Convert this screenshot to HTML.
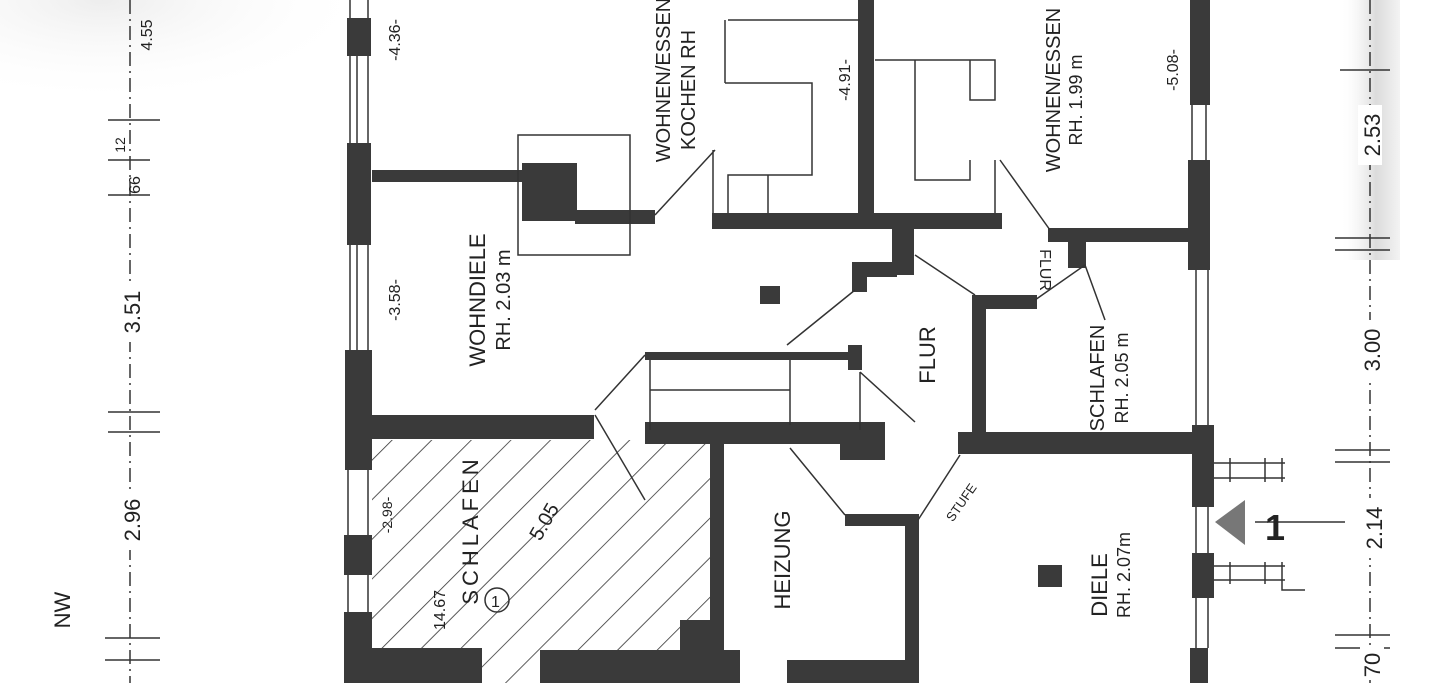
<!DOCTYPE html>
<html><head><meta charset="utf-8"><style>
html,body{margin:0;padding:0;background:#fff;}
svg{display:block}
text{font-family:"Liberation Sans",sans-serif;fill:#222}
</style></head><body>
<svg width="1447" height="683" viewBox="0 0 1447 683" xmlns="http://www.w3.org/2000/svg">
<defs>
<pattern id="h" width="28" height="28" patternUnits="userSpaceOnUse" patternTransform="rotate(45)">
<line x1="0" y1="0" x2="0" y2="28" stroke="#333" stroke-width="1.6"/></pattern>
<radialGradient id="g1" cx="0.3" cy="0" r="0.8"><stop offset="0" stop-color="#ccc"/><stop offset="1" stop-color="#fff" stop-opacity="0"/></radialGradient>
<linearGradient id="g2" x1="0" x2="1"><stop offset="0" stop-color="#fff" stop-opacity="0"/><stop offset="0.6" stop-color="#ccc"/><stop offset="1" stop-color="#eee"/></linearGradient>
</defs>
<rect width="1447" height="683" fill="#fff"/>
<rect x="0" y="0" width="340" height="130" fill="url(#g1)" opacity="0.35"/>
<rect x="1340" y="0" width="60" height="260" fill="url(#g2)" opacity="0.7"/>
<rect x="372" y="440" width="340" height="243" fill="url(#h)"/>
<g fill="#3a3a3a">
<rect x="347" y="18" width="24" height="38"/>
<rect x="347" y="143" width="24" height="102"/>
<rect x="345" y="350" width="27" height="120"/>
<rect x="344" y="535" width="28" height="40"/>
<rect x="344" y="612" width="28" height="71"/>
<rect x="372" y="170" width="152" height="12"/>
<rect x="522" y="163" width="55" height="58"/>
<rect x="575" y="210" width="80" height="14"/>
<rect x="712" y="213" width="290" height="16"/>
<rect x="858" y="0" width="16" height="225"/>
<rect x="892" y="225" width="22" height="50"/>
<rect x="852" y="262" width="45" height="15"/>
<rect x="852" y="262" width="15" height="30"/>
<rect x="1048" y="228" width="145" height="14"/>
<rect x="1068" y="238" width="18" height="30"/>
<rect x="972" y="295" width="14" height="150"/>
<rect x="972" y="295" width="65" height="14"/>
<rect x="958" y="432" width="240" height="22"/>
<rect x="372" y="415" width="222" height="24"/>
<rect x="645" y="422" width="240" height="22"/>
<rect x="840" y="425" width="45" height="35"/>
<rect x="645" y="352" width="215" height="8"/>
<rect x="848" y="345" width="14" height="25"/>
<rect x="710" y="444" width="14" height="239"/>
<rect x="845" y="514" width="70" height="12"/>
<rect x="905" y="514" width="14" height="169"/>
<rect x="372" y="648" width="110" height="35"/>
<rect x="540" y="650" width="200" height="33"/>
<rect x="787" y="660" width="120" height="23"/>
<rect x="680" y="620" width="38" height="35"/>
<rect x="1190" y="0" width="20" height="105"/>
<rect x="1188" y="160" width="22" height="110"/>
<rect x="1192" y="425" width="22" height="82"/>
<rect x="1192" y="553" width="22" height="45"/>
<rect x="1190" y="648" width="18" height="35"/>
<rect x="760" y="286" width="20" height="18"/>
<rect x="1038" y="565" width="24" height="22"/>
</g>
<g stroke="#333" stroke-width="1.5" fill="none">
<line x1="350" y1="0" x2="350" y2="18"/><line x1="368" y1="0" x2="368" y2="18"/>
<line x1="350" y1="56" x2="350" y2="143"/><line x1="368" y1="56" x2="368" y2="143"/><line x1="357" y1="56" x2="357" y2="143"/>
<line x1="350" y1="245" x2="350" y2="350"/><line x1="368" y1="245" x2="368" y2="350"/><line x1="357" y1="245" x2="357" y2="350"/>
<line x1="348" y1="470" x2="348" y2="535"/><line x1="368" y1="470" x2="368" y2="535"/>
<line x1="348" y1="575" x2="348" y2="612"/><line x1="368" y1="575" x2="368" y2="612"/>
<line x1="1192" y1="105" x2="1192" y2="160"/><line x1="1206" y1="105" x2="1206" y2="160"/>
<line x1="1196" y1="270" x2="1196" y2="425"/><line x1="1208" y1="270" x2="1208" y2="425"/>
<line x1="1196" y1="507" x2="1196" y2="553"/><line x1="1208" y1="507" x2="1208" y2="553"/>
<line x1="1196" y1="598" x2="1196" y2="648"/><line x1="1208" y1="598" x2="1208" y2="648"/>
<rect x="518" y="135" width="112" height="120"/>
<path d="M728 20 H860 M725 20 V83 M725 83 H812 V175 H728 V213 M768 175 V213"/>
<path d="M875 60 H995 V100 H970 V60 M915 60 V180 H970 V160 M995 160 V213"/>
<path d="M655 215 L715 150 M713 150 V213"/>
<path d="M1000 160 L1050 230"/>
<path d="M650 360 V430 M790 360 V425 M650 390 H790"/>
<path d="M595 410 L645 355 M595 415 L645 500"/>
<path d="M860 372 L915 422 M860 372 V430 M787 345 L855 290 M915 255 L975 295"/>
<path d="M790 448 L845 515 M918 520 L960 455"/>
<path d="M1035 300 L1085 265 L1105 320"/>
<path d="M1214 463 H1285 M1214 478 H1285 M1230 458 V482 M1265 458 V482 M1282 458 V482"/>
<path d="M1214 566 H1285 M1214 580 H1285 M1230 562 V584 M1265 562 V584 M1282 562 V590 H1305"/>
<path d="M1255 522 H1345"/>
<path d="M130 0 V683" stroke-dasharray="14 5 2 5"/>
<path d="M108 120 H160 M108 160 H150 M108 195 H150 M108 412 H160 M108 432 H160 M105 638 H160 M105 660 H160"/>
<path d="M1370 0 V683" stroke-dasharray="14 5 2 5"/>
<path d="M1335 238 H1390 M1335 250 H1390 M1335 450 H1390 M1335 462 H1390 M1335 635 H1390 M1335 648 H1390 M1340 70 H1390"/>
</g>
<g fill="#fff">
<rect x="120" y="490" width="22" height="60"/><rect x="120" y="282" width="22" height="60"/>
<rect x="1358" y="105" width="24" height="60"/><rect x="1358" y="320" width="24" height="60"/>
<rect x="1360" y="498" width="24" height="60"/><rect x="1360" y="645" width="24" height="35"/>
</g>
<polygon points="1215,522 1245,500 1245,545" fill="#777"/>
<text x="1265" y="540" font-size="36" font-weight="bold" fill="#666">1</text>
<g font-size="22" fill="#333">
<text transform="translate(485 300) rotate(-90)" text-anchor="middle">WOHNDIELE</text>
<text transform="translate(510 300) rotate(-90)" text-anchor="middle" font-size="20">RH. 2.03 m</text>
<text transform="translate(478 530) rotate(-90)" text-anchor="middle" letter-spacing="4">SCHLAFEN</text>
<text transform="translate(445 610) rotate(-90)" text-anchor="middle" font-size="16">14.67</text>
<circle cx="497" cy="600" r="12" fill="none" stroke="#333" stroke-width="1.5"/>
<text x="491" y="607" font-size="16">1</text>
<text transform="translate(550 525) rotate(-60)" text-anchor="middle" font-size="20">5.05</text>
<text transform="translate(790 560) rotate(-90)" text-anchor="middle">HEIZUNG</text>
<text transform="translate(935 355) rotate(-90)" text-anchor="middle">FLUR</text>
<text transform="translate(1104 378) rotate(-90)" text-anchor="middle" font-size="20">SCHLAFEN</text>
<text transform="translate(1128 378) rotate(-90)" text-anchor="middle" font-size="18">RH. 2.05 m</text>
<text transform="translate(1107 585) rotate(-90)" text-anchor="middle">DIELE</text>
<text transform="translate(1130 575) rotate(-90)" text-anchor="middle" font-size="18">RH. 2.07m</text>
<text transform="translate(670 80) rotate(-90)" text-anchor="middle" font-size="20">WOHNEN/ESSEN</text>
<text transform="translate(695 90) rotate(-90)" text-anchor="middle" font-size="20">KOCHEN RH</text>
<text transform="translate(1060 90) rotate(-90)" text-anchor="middle" font-size="20">WOHNEN/ESSEN</text>
<text transform="translate(1082 100) rotate(-90)" text-anchor="middle" font-size="18">RH. 1.99 m</text>
<text transform="translate(965 505) rotate(-55)" text-anchor="middle" font-size="13">STUFE</text>
<text transform="translate(1040 270) rotate(90)" text-anchor="middle" font-size="16">FLUR</text>
<text transform="translate(140 520) rotate(-90)" text-anchor="middle">2.96</text>
<text transform="translate(140 312) rotate(-90)" text-anchor="middle">3.51</text>
<text transform="translate(140 185) rotate(-90)" text-anchor="middle" font-size="16">66</text>
<text transform="translate(125 145) rotate(-90)" text-anchor="middle" font-size="14">12</text>
<text transform="translate(152 35) rotate(-90)" text-anchor="middle" font-size="16">4.55</text>
<text transform="translate(400 40) rotate(-90)" text-anchor="middle" font-size="16">-4.36-</text>
<text transform="translate(400 300) rotate(-90)" text-anchor="middle" font-size="16">-3.58-</text>
<text transform="translate(392 515) rotate(-90)" text-anchor="middle" font-size="14">-2.98-</text>
<text transform="translate(850 80) rotate(-90)" text-anchor="middle" font-size="16">-4.91-</text>
<text transform="translate(1178 70) rotate(-90)" text-anchor="middle" font-size="16">-5.08-</text>
<text transform="translate(1380 135) rotate(-90)" text-anchor="middle" fill="#666">2.53</text>
<text transform="translate(1380 350) rotate(-90)" text-anchor="middle">3.00</text>
<text transform="translate(1382 528) rotate(-90)" text-anchor="middle">2.14</text>
<text transform="translate(1380 665) rotate(-90)" text-anchor="middle">70</text>
<text transform="translate(70 610) rotate(-90)" text-anchor="middle">NW</text>
</g>
</svg>
</body></html>
